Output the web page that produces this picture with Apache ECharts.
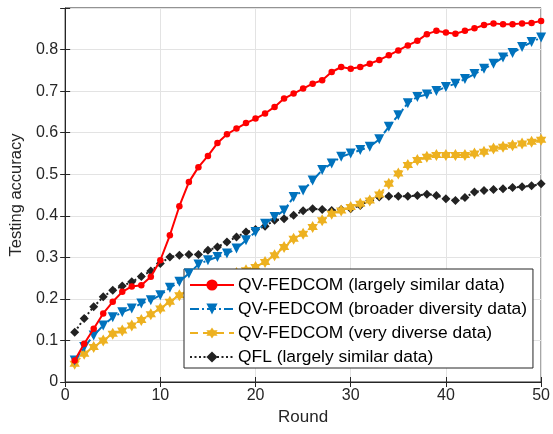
<!DOCTYPE html>
<html>
<head>
<meta charset="utf-8">
<script src="https://cdn.jsdelivr.net/npm/echarts@6/dist/echarts.min.js"></script>
<style>
  html, body { margin: 0; padding: 0; background: #fff; }
  #chart { width: 553px; height: 434px; }
</style>
</head>
<body>
<div id="chart"></div>
<script>
// Training rounds
const rounds = [1,2,3,4,5,6,7,8,9,10,11,12,13,14,15,16,17,18,19,20,21,22,23,24,25,
  26,27,28,29,30,31,32,33,34,35,36,37,38,39,40,41,42,43,44,45,46,47,48,49,50];

// Testing accuracy per round
const fedcomSimilar = [0.052,0.092,0.128,0.165,0.193,0.217,0.230,0.233,0.253,0.293,
  0.353,0.423,0.481,0.517,0.544,0.575,0.596,0.610,0.623,0.634,
  0.646,0.662,0.682,0.694,0.706,0.718,0.726,0.746,0.758,0.754,
  0.758,0.766,0.775,0.786,0.798,0.810,0.821,0.837,0.845,0.841,
  0.838,0.845,0.851,0.859,0.863,0.861,0.861,0.863,0.864,0.869];

const fedcomBroader = [0.052,0.084,0.112,0.136,0.156,0.168,0.177,0.189,0.197,0.209,
  0.227,0.241,0.261,0.283,0.293,0.301,0.309,0.321,0.341,0.361,
  0.381,0.397,0.413,0.445,0.461,0.485,0.510,0.526,0.542,0.550,
  0.558,0.566,0.584,0.614,0.642,0.671,0.686,0.692,0.700,0.710,
  0.718,0.729,0.741,0.754,0.766,0.781,0.792,0.806,0.818,0.829];

const fedcomDiverse = [0.044,0.068,0.084,0.100,0.116,0.124,0.136,0.149,0.163,0.177,
  0.193,0.209,0.221,0.232,0.240,0.247,0.255,0.262,0.269,0.277,
  0.289,0.305,0.325,0.345,0.357,0.373,0.389,0.405,0.413,0.421,
  0.429,0.437,0.451,0.477,0.502,0.522,0.534,0.542,0.546,0.546,
  0.546,0.546,0.550,0.554,0.562,0.566,0.570,0.574,0.578,0.583];

const qflSimilar = [0.120,0.153,0.181,0.205,0.221,0.231,0.241,0.254,0.267,0.285,
  0.301,0.305,0.307,0.307,0.317,0.325,0.337,0.349,0.361,0.367,
  0.375,0.389,0.393,0.401,0.412,0.417,0.415,0.413,0.415,0.417,
  0.425,0.437,0.445,0.447,0.447,0.447,0.449,0.452,0.449,0.441,
  0.437,0.444,0.457,0.461,0.463,0.465,0.468,0.470,0.472,0.477];

const seriesNames = [
  'QV-FEDCOM (largely similar data)',
  'QV-FEDCOM (broader diversity data)',
  'QV-FEDCOM (very diverse data)',
  'QFL (largely similar data)'
];

const FONT = 'Liberation Sans, Arial, Helvetica, sans-serif';
const AXIS_COLOR = '#262626';
const HEXAGRAM = 'path://M100 0 L128.87 50 L186.6 50 L157.7 100 L186.6 150 L128.87 150 L100 200 L71.13 150 L13.4 150 L42.3 100 L13.4 50 L71.13 50 Z';

const pairs = vals => vals.map((v, i) => [rounds[i], v]);

function lineSeries(name, vals, color, dash, symbol, size, extra) {
  return Object.assign({
    name: name,
    type: 'line',
    data: pairs(vals),
    symbol: symbol,
    symbolSize: size,
    showSymbol: true,
    showAllSymbol: true,
    animation: false,
    lineStyle: { color: color, width: 2, type: dash },
    itemStyle: { color: color, borderWidth: 0 },
    emphasis: { disabled: true }
  }, extra || {});
}

const chart = echarts.init(document.getElementById('chart'), null, { renderer: 'canvas' });

// mirrored tick marks on the top and right edges of the box
const mirrorAxis = {
  min: 0,
  axisLine: { show: false },
  axisLabel: { show: false },
  splitLine: { show: false },
  axisTick: { show: true, inside: true, length: 5, lineStyle: { color: AXIS_COLOR } }
};

chart.setOption({
  backgroundColor: '#ffffff',
  textStyle: { fontFamily: FONT },
  grid: {
    left: 64, right: 11, top: 8, bottom: 52,
    show: true, borderColor: AXIS_COLOR, borderWidth: 1
  },
  legend: {
    orient: 'vertical',
    left: 184, top: 269,
    padding: [7, 6, 2, 5],
    itemGap: 6,
    itemWidth: 44,
    itemHeight: 14,
    backgroundColor: '#ffffff',
    borderColor: AXIS_COLOR,
    borderWidth: 1,
    borderRadius: 0,
    textStyle: { fontFamily: FONT, fontSize: 17.4, lineHeight: 18, color: '#000', padding: [0, 0, 0, -1] },
    data: seriesNames
  },
  xAxis: [{
    type: 'value',
    min: 0, max: 50, interval: 10,
    name: 'Round',
    nameLocation: 'middle',
    nameGap: 22,
    nameTextStyle: { fontFamily: FONT, fontSize: 17, color: AXIS_COLOR },
    axisLine: { show: true, lineStyle: { color: AXIS_COLOR } },
    axisTick: { show: true, inside: true, length: 5, lineStyle: { color: AXIS_COLOR } },
    axisLabel: { fontFamily: FONT, fontSize: 16, color: AXIS_COLOR, margin: 6 },
    splitLine: { show: true, lineStyle: { color: '#e3e3e3', width: 1 } }
  }, Object.assign({ type: 'value', position: 'top', max: 50, interval: 10 }, mirrorAxis)],
  yAxis: [{
    type: 'value',
    min: 0, max: 0.9, interval: 0.1,
    name: 'Testing accuracy',
    nameLocation: 'middle',
    nameGap: 36,
    nameRotate: 90,
    nameTextStyle: { fontFamily: FONT, fontSize: 16.5, color: AXIS_COLOR },
    axisLine: { show: true, lineStyle: { color: AXIS_COLOR } },
    axisTick: { show: true, inside: true, length: 5, lineStyle: { color: AXIS_COLOR } },
    axisLabel: {
      fontFamily: FONT, fontSize: 16, color: AXIS_COLOR, margin: 7,
      formatter: v => (v > 0.85 ? '' : (v === 0 ? '0' : v.toFixed(1)))
    },
    splitLine: { show: true, lineStyle: { color: '#e3e3e3', width: 1 } }
  }, Object.assign({ type: 'value', position: 'right', max: 0.9, interval: 0.1 }, mirrorAxis)],
  series: [
    lineSeries(seriesNames[3], qflSimilar, '#222222', [2, 2.5], 'diamond', 9, { z: 2 }),
    lineSeries(seriesNames[2], fedcomDiverse, '#EDB120', [8, 5], HEXAGRAM, 12, { symbolKeepAspect: true, z: 3 }),
    lineSeries(seriesNames[1], fedcomBroader, '#0072BD', [9, 3, 2, 3], 'triangle', 10, { symbolRotate: 180, z: 4 }),
    lineSeries(seriesNames[0], fedcomSimilar, '#FF0000', 'solid', 'circle', 6.5, { z: 5 })
  ]
});
</script>
</body>
</html>
